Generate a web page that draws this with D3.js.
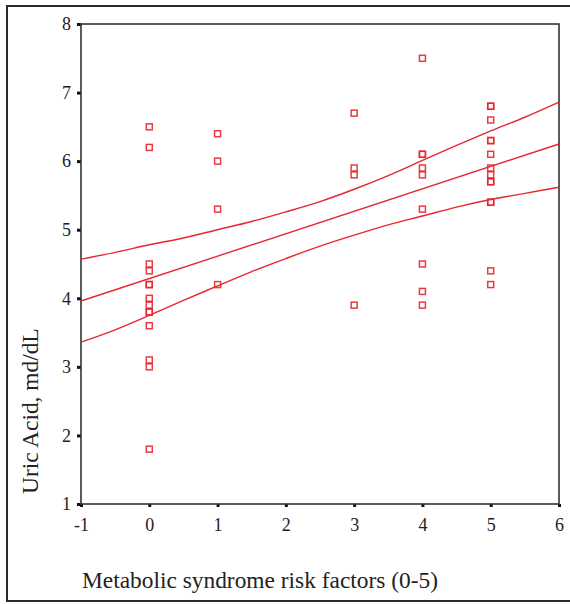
<!DOCTYPE html>
<html>
<head>
<meta charset="utf-8">
<script src="https://cdn.jsdelivr.net/npm/d3@7"></script>
<style>
  body { margin: 0; background: #fff; }
  svg { display: block; }
</style>
</head>
<body>
<div id="scatter"></div>
<script>
// chart data
var xTicks = [-1, 0, 1, 2, 3, 4, 5, 6];
var yTicks = [1, 2, 3, 4, 5, 6, 7, 8];

// uric acid values for each number of risk factors
var uric0 = [6.5, 6.2, 4.5, 4.4, 4.2, 4.2, 4.0, 3.9, 3.8, 3.8, 3.6, 3.1, 3.0, 1.8];
var uric1 = [6.4, 6.0, 5.3, 4.2];
var uric3 = [6.7, 5.9, 5.8, 3.9];
var uric4 = [7.5, 6.1, 6.1, 5.9, 5.8, 5.3, 4.5, 4.1, 3.9];
var uric5 = [6.8, 6.8, 6.6, 6.3, 6.3, 6.1, 5.9, 5.8, 5.7, 5.7, 5.4, 5.4, 4.4, 4.2];

// fit line and its confidence band
var fitX = [-1, 6];
var fitY = [3.96, 6.25];
var bandX = [-1, -0.5, 0, 0.5, 1, 1.5, 2, 2.5, 3, 3.5, 4, 4.5, 5, 5.5, 6];
var upperY = [4.57, 4.67, 4.78, 4.88, 5.00, 5.12, 5.26, 5.41, 5.59, 5.79, 6.01, 6.23, 6.44, 6.64, 6.86];
var lowerY = [3.36, 3.54, 3.75, 3.97, 4.18, 4.39, 4.58, 4.76, 4.92, 5.07, 5.20, 5.33, 5.44, 5.53, 5.62];

var svgWidth = 570;
var svgHeight = 604;
var margin = { top: 24, right: 11, bottom: 100, left: 81 };
var width = svgWidth - margin.left - margin.right;
var height = svgHeight - margin.top - margin.bottom;

var red = "#e8262e";
var serif = "'Liberation Serif', 'Times New Roman', serif";

var svg = d3.select("#scatter")
  .append("svg")
  .attr("width", svgWidth)
  .attr("height", svgHeight);

// outer border (right edge falls outside the picture)
svg.append("rect")
  .attr("x", 7)
  .attr("y", 6)
  .attr("width", 580)
  .attr("height", 595)
  .attr("fill", "none")
  .attr("stroke", "#2a2a2a")
  .attr("stroke-width", 2);

var chart = svg.append("g")
  .attr("transform", `translate(${margin.left}, ${margin.top})`);

var x = d3.scaleLinear().domain([-1, 6]).range([0, width]);
var y = d3.scaleLinear().domain([1, 8]).range([height, 0]);

// axes: square tick marks, no domain line
var bottomAxis = d3.axisBottom(x).tickValues(xTicks).tickSize(3).tickPadding(11).tickFormat(d3.format("d"));
var leftAxis = d3.axisLeft(y).tickValues(yTicks).tickSize(4).tickPadding(6).tickFormat(d3.format("d"));

var xg = chart.append("g")
  .attr("transform", `translate(0, ${height})`)
  .call(bottomAxis);
var yg = chart.append("g").call(leftAxis);

[xg, yg].forEach(function(g) {
  g.attr("font-family", serif).attr("font-size", 18);
  g.select(".domain").remove();
  g.selectAll(".tick line").attr("stroke", "#111").attr("stroke-width", 3);
  g.selectAll(".tick text").attr("fill", "#222");
});
xg.selectAll(".tick text").text(d => d < 0 ? "-" + Math.abs(d) : d);

// plot frame
chart.append("rect")
  .attr("width", width)
  .attr("height", height)
  .attr("fill", "none")
  .attr("stroke", "#333")
  .attr("stroke-width", 1.6);

// regression lines
var line = d3.line()
  .x(d => x(d[0]))
  .y(d => y(d[1]))
  .curve(d3.curveMonotoneX);

var curves = [
  d3.zip(bandX, upperY),
  d3.zip(fitX, fitY),
  d3.zip(bandX, lowerY)
];

chart.selectAll(".fit")
  .data(curves)
  .enter()
  .append("path")
  .attr("class", "fit")
  .attr("d", line)
  .attr("fill", "none")
  .attr("stroke", red)
  .attr("stroke-width", 1.4);

// points
var points = [];
[[0, uric0], [1, uric1], [3, uric3], [4, uric4], [5, uric5]].forEach(function(g) {
  g[1].forEach(function(v) { points.push({ risk: g[0], uric: v }); });
});

var s = 6;
chart.selectAll(".pt")
  .data(points)
  .enter()
  .append("rect")
  .attr("class", "pt")
  .attr("x", d => x(d.risk) - s / 2)
  .attr("y", d => y(d.uric) - s / 2)
  .attr("width", s)
  .attr("height", s)
  .attr("fill", "none")
  .attr("stroke", red)
  .attr("stroke-opacity", 0.9)
  .attr("stroke-width", 1.5);

// axis titles
svg.append("text")
  .attr("font-family", serif)
  .attr("font-size", 23.4)
  .attr("fill", "#222")
  .attr("x", 82)
  .attr("y", 588)
  .text("Metabolic syndrome risk factors (0-5)");

svg.append("text")
  .attr("font-family", serif)
  .attr("font-size", 23.4)
  .attr("fill", "#222")
  .attr("transform", "translate(38, 494) rotate(-90)")
  .text("Uric Acid, md/dL");
</script>
</body>
</html>
